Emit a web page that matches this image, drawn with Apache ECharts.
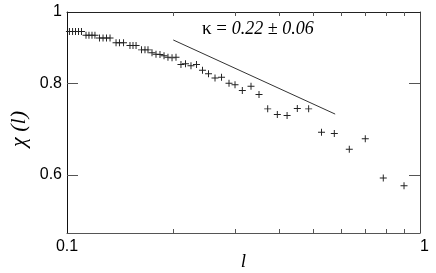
<!DOCTYPE html>
<html>
<head>
<meta charset="utf-8">
<script src="https://cdn.jsdelivr.net/npm/echarts@6/dist/echarts.min.js"></script>
<style>html,body{margin:0;padding:0;background:#fff;}#c{width:436px;height:273px;}</style>
</head>
<body>
<div id="c"></div>
<script>
// ---- data ----
const lValues = [0.1016,0.1037,0.1057,0.1078,0.1099,
  0.1132,0.1154,0.1177,0.1200,
  0.1236,0.1265,0.1294,0.1324,
  0.1377,0.1408,0.1446,
  0.1508,0.1538,0.1569,
  0.1626,0.1663,0.1696,
  0.1741,0.1787,0.1834,0.1883,0.1932,0.1984,0.2036,
  0.2103,0.2166,0.2245,0.2327,
  0.2420,0.2517,0.2626,0.2740,0.2877,0.2992,0.3138,0.3321,0.3499,0.3703,
  0.3943,0.4202,0.4492,0.4837,0.5260,0.5718,0.6305,0.6998,0.787,0.901];
const chiValues = [0.941,0.941,0.941,0.941,0.941,
  0.930,0.930,0.930,0.930,
  0.922,0.922,0.922,0.922,
  0.908,0.908,0.908,
  0.900,0.900,0.900,
  0.888,0.888,0.888,
  0.880,0.876,0.875,0.872,0.868,0.866,0.868,
  0.848,0.850,0.845,0.848,
  0.833,0.824,0.813,0.815,0.800,0.796,0.782,0.792,0.772,0.738,
  0.725,0.723,0.739,0.738,0.686,0.683,0.650,0.672,0.594,0.580];
const fitL = [0.2, 0.575];
const fitChi = [0.916, 0.726];
const xRange = [0.1, 1];
const yRange = [0.5, 1];
const xTickValues = [0.1, 1];
const xTickLabels = ['0.1', '1'];
const xMinorTicks = [0.2,0.3,0.4,0.5,0.6,0.7,0.8,0.9];
const yTickValues = [0.6, 0.8, 1];
const yTickLabels = ['0.6', '0.8', '1'];
const yAxisTitle = 'χ (l)';
const xAxisTitle = 'l';
const annotation = ['κ = ', '0.22 ± 0.06'];

const lg = Math.log10;
function fmt(vals, labels) {
  return function (v) {
    const i = vals.findIndex(t => Math.abs(lg(t) - v) < 1e-6);
    return i >= 0 ? labels[i] : '';
  };
}
const cross = 'path://M-0.14,-1 L0.14,-1 L0.14,-0.14 L1,-0.14 L1,0.14 L0.14,0.14 L0.14,1 L-0.14,1 L-0.14,0.14 L-1,0.14 L-1,-0.14 L-0.14,-0.14 Z';
const labelFont = {fontFamily: 'Liberation Sans', fontSize: 16, color: '#000'};

const chart = echarts.init(document.getElementById('c'), null, {renderer: 'canvas'});
chart.setOption({
  animation: false,
  backgroundColor: '#fff',
  grid: {left: 67, right: 16, top: 12, bottom: 40, containLabel: false, outerBoundsMode: 'none'},
  xAxis: [{
    type: 'value', position: 'bottom', min: lg(xRange[0]), max: lg(xRange[1]),
    axisLine: {show: true, onZero: false, lineStyle: {color: '#555', width: 1}},
    splitLine: {show: false},
    axisTick: {show: true, inside: true, length: 4, customValues: xMinorTicks.map(lg), lineStyle: {color: '#555'}},
    axisLabel: Object.assign({customValues: xTickValues.map(lg), formatter: fmt(xTickValues, xTickLabels), margin: 6, alignMaxLabel: 'left'}, labelFont),
    name: xAxisTitle, nameLocation: 'middle', nameGap: 19, nameMoveOverlap: false,
    nameTextStyle: {fontFamily: 'Liberation Serif', fontStyle: 'italic', fontSize: 19, color: '#000'}
  }, {
    type: 'value', position: 'top', min: lg(xRange[0]), max: lg(xRange[1]),
    axisLine: {show: true, onZero: false, lineStyle: {color: '#222', width: 1}},
    splitLine: {show: false},
    axisTick: {show: true, inside: true, length: 4, customValues: xMinorTicks.map(lg), lineStyle: {color: '#555'}},
    axisLabel: {show: false}
  }],
  yAxis: [{
    type: 'value', position: 'left', min: lg(yRange[0]), max: lg(yRange[1]),
    axisLine: {show: true, onZero: false, lineStyle: {color: '#111', width: 1}},
    splitLine: {show: false},
    axisTick: {show: true, inside: true, length: 11, customValues: [lg(0.6), lg(0.8)], lineStyle: {color: '#555'}},
    axisLabel: Object.assign({customValues: yTickValues.map(lg), formatter: fmt(yTickValues, yTickLabels), margin: 5}, labelFont)
  }, {
    type: 'value', position: 'right', min: lg(yRange[0]), max: lg(yRange[1]),
    axisLine: {show: true, onZero: false, lineStyle: {color: '#444', width: 1}},
    splitLine: {show: false},
    axisTick: {show: true, inside: true, length: 11, customValues: [lg(0.6), lg(0.8)], lineStyle: {color: '#555'}},
    axisLabel: {show: false}
  }],
  series: [{
    type: 'scatter', xAxisIndex: 0, yAxisIndex: 0,
    symbol: cross, symbolSize: 7,
    itemStyle: {color: '#222', opacity: 1},
    data: lValues.map((l, i) => [lg(l), lg(chiValues[i])])
  }, {
    type: 'line', xAxisIndex: 0, yAxisIndex: 0,
    showSymbol: false, symbol: 'none',
    lineStyle: {color: '#333', width: 1},
    data: fitL.map((l, i) => [lg(l), lg(fitChi[i])])
  }],
  graphic: [{
    type: 'text', x: 19, y: 129, rotation: Math.PI / 2,
    style: {
      text: yAxisTitle, align: 'center', verticalAlign: 'middle',
      fontFamily: 'Liberation Serif', fontStyle: 'italic', fontSize: 22, fill: '#000'
    }
  }, {
    type: 'text', left: 202, top: 20,
    style: {
      text: '{a|' + annotation[0] + '}{b|' + annotation[1] + '}',
      rich: {
        a: {fontFamily: 'Liberation Serif', fontSize: 19, fill: '#000'},
        b: {fontFamily: 'Liberation Serif', fontStyle: 'italic', fontSize: 18, fill: '#000'}
      }
    }
  }]
});
</script>
</body>
</html>
